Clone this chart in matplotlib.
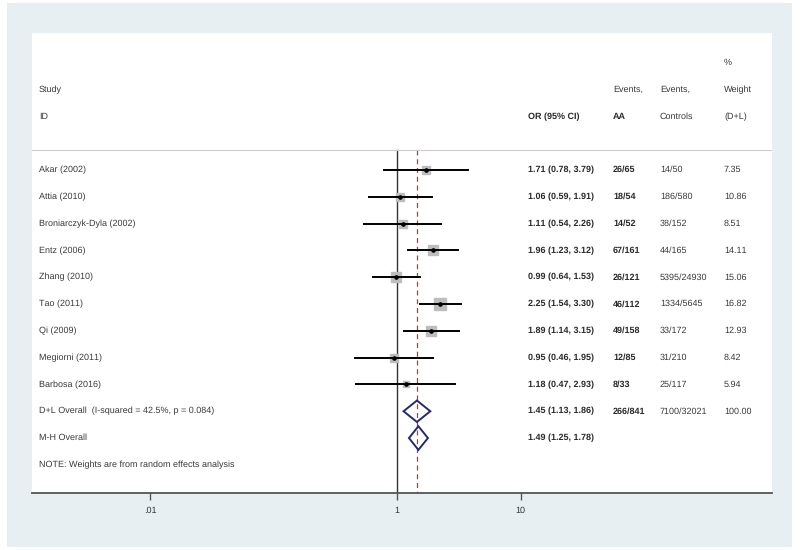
import numpy as np
import matplotlib.pyplot as plt
from matplotlib.patches import Rectangle, Polygon
from matplotlib.transforms import blended_transform_factory

plt.rcParams['font.family'] = ['Liberation Sans', 'DejaVu Sans']
plt.rcParams['text.hinting'] = 'no_hinting'
plt.rcParams['text.hinting_factor'] = 1

# study level data
studies = ['Akar (2002)', 'Attia (2010)', 'Broniarczyk-Dyla (2002)', 'Entz (2006)',
           'Zhang (2010)', 'Tao (2011)', 'Qi (2009)', 'Megiorni (2011)', 'Barbosa (2016)']
or_vals = [1.71, 1.06, 1.11, 1.96, 0.99, 2.25, 1.89, 0.95, 1.18]
ci_lo = [0.78, 0.59, 0.54, 1.23, 0.64, 1.54, 1.14, 0.46, 0.47]
ci_hi = [3.79, 1.91, 2.26, 3.12, 1.53, 3.30, 3.15, 1.95, 2.93]
events_aa = ['26/65', '18/54', '14/52', '67/161', '26/121', '46/112', '49/158', '12/85', '8/33']
events_ctrl = ['14/50', '186/580', '38/152', '44/165', '5395/24930', '1334/5645',
               '33/172', '31/210', '25/117']
weights = [7.35, 10.86, 8.51, 14.11, 15.06, 16.82, 12.93, 8.42, 5.94]

# pooled estimates
pooled_labels = ['D+L Overall  (I-squared = 42.5%, p = 0.084)', 'M-H Overall']
pooled_or = [1.45, 1.49]
pooled_lo = [1.13, 1.25]
pooled_hi = [1.86, 1.78]
pooled_aa = ['266/841', '']
pooled_ctrl = ['7100/32021', '']
pooled_w = ['100.00', '']

note = 'NOTE: Weights are from random effects analysis'
tick_vals = [0.01, 1, 10]
tick_labels = ['.01', '1', '10']

W, H = 800, 550
fig = plt.figure(figsize=(8, 5.5), dpi=100, facecolor='white')
bg = Rectangle((7 / W, 3 / H), 785 / W, 544 / H, transform=fig.transFigure,
               facecolor='#e7eff3', edgecolor='none', zorder=-10)
fig.add_artist(bg)

ax = fig.add_axes([32 / W, (H - 493) / H, 740 / W, 460 / H])
ax.set_zorder(1)
ax.set_facecolor('white')
ax.set_xscale('log')
ax.set_xlim(10 ** -2.955, 10 ** 3.036)
ax.set_ylim(12.05, -5.11)

for s in ['top', 'right', 'left']:
    ax.spines[s].set_visible(False)
ax.spines['bottom'].set_color('#555555')
ax.spines['bottom'].set_linewidth(1.3)
ax.set_yticks([])
ax.set_xticks(tick_vals)
ax.set_xticklabels(tick_labels)
ax.minorticks_off()
ax.tick_params(axis='x', length=5, width=1, color='#555555', labelsize=6.4,
               labelcolor='#333333', pad=5)

n = len(studies)
rows = np.arange(n)
prow = np.array([n, n + 1])

# reference lines
ax.plot([1, 1], [-0.75, 12.05], color='#333333', lw=1.0, zorder=1)
ax.plot([pooled_or[0]] * 2, [-0.75, 12.05], color='#c0392b', lw=0.9,
        linestyle=(0, (4, 3)), zorder=1)
ax.plot([10 ** -2.955, 10 ** 3.036], [-0.75, -0.75], color='#cccccc', lw=0.8)

# study squares, CIs and points
for i in range(n):
    ax.plot(or_vals[i], rows[i], marker='s', markersize=1.95 * np.sqrt(weights[i]),
            color='#bdbdbd', zorder=2)
    ax.plot([ci_lo[i], ci_hi[i]], [rows[i], rows[i]], color='black', lw=1.4, zorder=3)
    ax.plot(or_vals[i], rows[i], marker='o', markersize=2.3, color='black', zorder=4)

# pooled diamonds
for j in range(2):
    y = prow[j]
    h = 0.4 if j == 0 else 0.44
    d = Polygon([(pooled_lo[j], y), (pooled_or[j], y - h), (pooled_hi[j], y),
                 (pooled_or[j], y + h)], closed=True, facecolor='none',
                edgecolor='#232a73', lw=1.4, zorder=5)
    ax.add_patch(d)

# text columns
tr = blended_transform_factory(fig.transFigure, ax.transData)
fs = 6.4
col_lab, col_or, col_aa, col_ct, col_w = 39, 528, 613, 660, 724
txt = dict(transform=tr, fontsize=fs, va='center', ha='left', color='#3a3a3a')
bold = dict(txt, fontweight='bold', color='#2a2a2a')

ax.text(col_w / W, -4, '%', **txt)
ax.text(col_lab / W, -3, 'Study', **txt)
ax.text(col_aa / W, -3, 'Events,', **txt)
ax.text(col_ct / W, -3, 'Events,', **txt)
ax.text(col_w / W, -3, 'Weight', **txt)
ax.text(col_lab / W, -2, 'ID', **txt)
ax.text(col_or / W, -2, 'OR (95% CI)', **bold)
ax.text(col_aa / W, -2, 'AA', **bold)
ax.text(col_ct / W, -2, 'Controls', **txt)
ax.text(col_w / W, -2, '(D+L)', **txt)

for i in range(n):
    ax.text(col_lab / W, rows[i], studies[i], **txt)
    ax.text(col_or / W, rows[i], '%.2f (%.2f, %.2f)' % (or_vals[i], ci_lo[i], ci_hi[i]), **bold)
    ax.text(col_aa / W, rows[i], events_aa[i], **bold)
    ax.text(col_ct / W, rows[i], events_ctrl[i], **txt)
    ax.text(col_w / W, rows[i], '%.2f' % weights[i], **txt)

for j in range(2):
    ax.text(col_lab / W, prow[j], pooled_labels[j], **txt)
    ax.text(col_or / W, prow[j], '%.2f (%.2f, %.2f)' % (pooled_or[j], pooled_lo[j], pooled_hi[j]), **bold)
    ax.text(col_aa / W, prow[j], pooled_aa[j], **bold)
    ax.text(col_ct / W, prow[j], pooled_ctrl[j], **txt)
    ax.text(col_w / W, prow[j], pooled_w[j], **txt)

ax.text(col_lab / W, n + 2, note, **txt)

fig.savefig('out.png', dpi=100, facecolor='white')
